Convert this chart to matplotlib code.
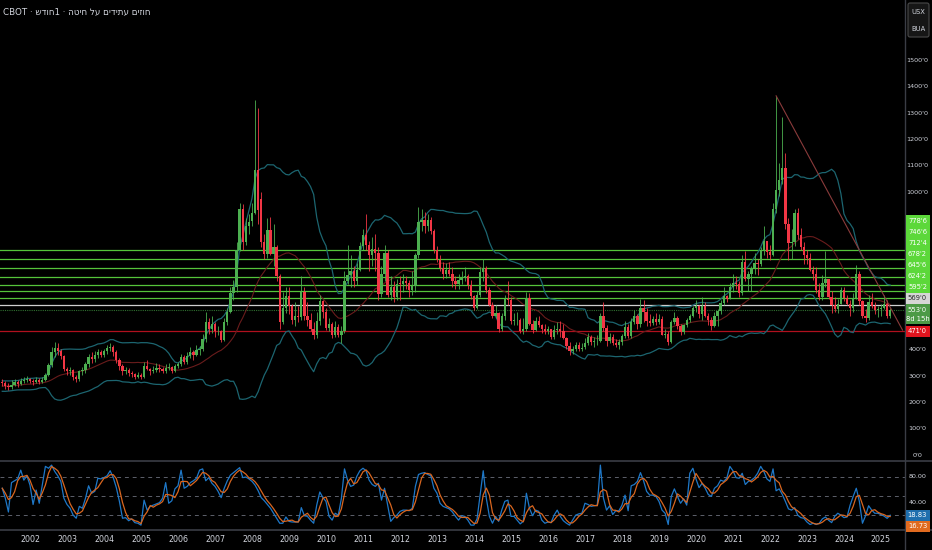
import numpy as np
import pandas as pd
import matplotlib
matplotlib.use('Agg')
import matplotlib.pyplot as plt
from matplotlib import font_manager
from matplotlib.patches import Rectangle, FancyBboxPatch
from matplotlib.lines import Line2D
from matplotlib.transforms import IdentityTransform

plt.rcParams['font.family'] = ['DejaVu Sans']

# monthly candles Apr 2001 .. Apr 2025, one year per line (cents/bu)
opens = [
    278, 272, 262, 258, 268, 276, 270, 282, 284,
    289, 280, 276, 286, 278, 284, 304, 342, 392, 408, 396, 378,
    326, 318, 322, 296, 288, 318, 322, 345, 372, 365, 382, 392,
    380, 395, 408, 412, 392, 360, 338, 318, 322, 312, 308, 298,
    306, 296, 340, 328, 318, 325, 330, 328, 318, 332, 336, 320,
    338, 345, 372, 352, 378, 392, 382, 398, 402, 440, 505, 478,
    500, 470, 472, 438, 505, 545, 618, 640, 780, 935, 810, 870,
    890, 920, 1084, 975, 810, 765, 855, 765, 790, 680, 505, 560,
    605, 565, 512, 530, 525, 620, 530, 515, 480, 455, 510, 585,
    545, 482, 498, 455, 488, 458, 470, 660, 685, 700, 662, 705,
    795, 835, 800, 760, 785, 770, 612, 690, 770, 608, 640, 600,
    652, 650, 662, 655, 628, 642, 760, 887, 895, 870, 895, 850,
    780, 742, 712, 690, 705, 690, 660, 652, 665, 675, 682, 645,
    605, 558, 610, 695, 712, 628, 572, 528, 540, 478, 530, 592,
    590, 508, 512, 512, 470, 478, 598, 500, 476, 510, 495, 478,
    470, 478, 448, 475, 480, 470, 445, 415, 395, 402, 418, 405,
    410, 425, 448, 428, 432, 432, 528, 482, 435, 450, 425, 420,
    428, 452, 488, 452, 505, 528, 498, 558, 545, 510, 502, 518,
    505, 518, 458, 462, 430, 505, 522, 492, 468, 495, 512, 530,
    558, 565, 535, 568, 530, 512, 492, 530, 548, 578, 605, 595,
    640, 655, 652, 615, 735, 668, 690, 710, 730, 728, 775, 812,
    772, 760, 935, 1006, 1045, 1090, 880, 805, 810, 920, 835, 790,
    760, 748, 705, 690, 628, 602, 655, 668, 600, 572, 555, 575,
    628, 598, 575, 560, 598, 690, 585, 528, 520, 582, 568, 550,
    556, 560, 575, 528,
]
highs = [
    290, 280, 272, 285, 290, 285, 292, 296, 300,
    294, 288, 295, 292, 296, 312, 350, 410, 428, 425, 405, 380,
    335, 335, 328, 305, 325, 335, 355, 385, 392, 395, 405, 400,
    405, 418, 425, 420, 398, 368, 345, 335, 330, 320, 312, 315,
    310, 355, 362, 332, 338, 350, 345, 335, 345, 350, 340, 345,
    355, 385, 380, 390, 410, 400, 420, 415, 460, 545, 520, 530,
    505, 490, 475, 520, 560, 640, 665, 810, 960, 955, 900, 915,
    960, 1350, 1319, 1000, 840, 900, 905, 880, 800, 690, 620, 640,
    640, 575, 580, 565, 680, 640, 580, 540, 505, 545, 610, 590,
    560, 520, 505, 510, 500, 490, 700, 800, 760, 720, 730, 810,
    860, 915, 815, 830, 840, 790, 720, 800, 780, 680, 660, 670,
    680, 690, 680, 665, 700, 770, 945, 935, 925, 915, 905, 860,
    795, 760, 735, 730, 735, 715, 680, 690, 700, 715, 690, 665,
    610, 625, 715, 745, 720, 640, 580, 570, 545, 540, 610, 660,
    600, 540, 545, 520, 520, 620, 615, 515, 525, 530, 500, 500,
    490, 480, 495, 505, 510, 500, 450, 430, 415, 430, 430, 425,
    445, 465, 455, 450, 455, 540, 580, 495, 465, 460, 440, 440,
    460, 510, 500, 520, 550, 535, 595, 590, 560, 535, 530, 540,
    535, 530, 480, 470, 515, 545, 530, 500, 500, 520, 535, 565,
    590, 570, 600, 580, 540, 525, 545, 555, 590, 640, 610, 655,
    690, 680, 660, 760, 775, 700, 720, 770, 745, 790, 870, 815,
    800, 960, 1366, 1110, 1285, 1150, 900, 860, 935, 940, 865, 810,
    780, 770, 720, 715, 655, 685, 775, 670, 625, 600, 595, 640,
    640, 610, 590, 615, 722, 700, 590, 555, 610, 615, 580, 565,
    575, 610, 590, 560,
]
lows = [
    262, 252, 246, 250, 262, 258, 265, 272, 276,
    272, 268, 272, 270, 272, 280, 300, 335, 372, 380, 365, 318,
    305, 305, 285, 276, 282, 305, 312, 335, 348, 355, 368, 372,
    372, 385, 395, 375, 350, 325, 305, 308, 300, 298, 288, 292,
    288, 293, 322, 306, 310, 314, 315, 310, 312, 322, 312, 316,
    330, 340, 345, 346, 368, 360, 375, 380, 395, 430, 460, 465,
    450, 455, 430, 435, 495, 540, 590, 620, 775, 780, 800, 840,
    870, 915, 880, 790, 745, 750, 760, 720, 660, 480, 500, 540,
    535, 500, 490, 505, 515, 515, 490, 470, 440, 445, 495, 520,
    475, 470, 445, 450, 450, 425, 465, 650, 640, 640, 645, 700,
    780, 780, 700, 720, 700, 590, 600, 660, 600, 590, 580, 590,
    590, 620, 630, 600, 610, 620, 750, 850, 845, 850, 840, 770,
    735, 700, 670, 675, 680, 640, 630, 630, 650, 660, 630, 595,
    550, 555, 600, 660, 615, 565, 520, 520, 468, 470, 515, 570,
    500, 495, 495, 465, 460, 470, 495, 465, 470, 485, 465, 460,
    460, 440, 440, 460, 450, 440, 405, 380, 385, 395, 395, 395,
    405, 420, 420, 410, 418, 428, 470, 415, 425, 418, 410, 405,
    420, 445, 445, 445, 500, 480, 485, 505, 490, 490, 495, 495,
    500, 455, 445, 420, 425, 500, 480, 455, 460, 485, 505, 525,
    545, 520, 515, 525, 495, 475, 488, 490, 535, 570, 580, 595,
    620, 630, 600, 610, 660, 625, 625, 690, 685, 720, 760, 750,
    740, 755, 920, 985, 1030, 860, 740, 745, 795, 820, 780, 725,
    725, 700, 665, 615, 590, 590, 640, 595, 540, 545, 540, 575,
    585, 570, 530, 545, 592, 570, 520, 505, 515, 560, 535, 525,
    530, 555, 520, 520,
]
closes = [
    272, 262, 258, 268, 276, 270, 282, 284, 289,
    280, 276, 286, 278, 284, 304, 342, 392, 408, 396, 378, 326,
    318, 322, 296, 288, 318, 322, 345, 372, 365, 382, 392, 380,
    395, 408, 412, 392, 360, 338, 318, 322, 312, 308, 298, 306,
    296, 340, 328, 318, 325, 330, 328, 318, 332, 336, 320, 338,
    345, 372, 352, 378, 392, 382, 398, 402, 440, 505, 478, 500,
    470, 472, 438, 505, 545, 618, 640, 780, 935, 810, 870, 885,
    920, 1084, 930, 810, 765, 855, 765, 790, 680, 505, 560, 605,
    565, 512, 530, 525, 620, 530, 515, 480, 455, 510, 585, 545,
    482, 498, 455, 488, 458, 470, 660, 685, 700, 662, 705, 795,
    835, 800, 760, 785, 770, 612, 690, 770, 608, 640, 600, 652,
    650, 662, 655, 628, 642, 760, 887, 895, 870, 895, 850, 780,
    742, 712, 690, 705, 690, 660, 652, 665, 675, 682, 645, 605,
    558, 610, 695, 712, 628, 572, 528, 540, 478, 530, 592, 590,
    508, 512, 512, 470, 478, 598, 500, 476, 510, 495, 478, 470,
    478, 448, 475, 480, 470, 445, 415, 395, 402, 418, 405, 408,
    425, 448, 428, 432, 432, 528, 482, 435, 450, 425, 420, 428,
    452, 488, 452, 505, 528, 498, 558, 545, 510, 502, 518, 505,
    518, 458, 462, 430, 505, 522, 492, 468, 495, 512, 530, 558,
    565, 535, 568, 530, 512, 492, 530, 548, 578, 605, 595, 640,
    655, 652, 615, 735, 668, 690, 710, 730, 728, 775, 812, 772,
    760, 935, 1006, 1045, 1090, 880, 805, 810, 920, 835, 790, 760,
    748, 705, 690, 628, 602, 655, 668, 600, 572, 555, 575, 628,
    598, 575, 560, 598, 690, 585, 528, 520, 582, 568, 550, 556,
    560, 575, 528, 553,
]
# closes Sep 1999 .. Mar 2001, only to warm up the 20-bar bands
warmup_closes = [265, 250, 252, 248, 255, 258, 262, 255, 275, 262,
                 255, 248, 262, 255, 272, 282, 272, 265, 278]
first_month = '2001-04'

# stoch RSI %K, same months as the candles
stoch_k = [
    62, 46, 24, 71, 74, 77, 91, 75, 82,
    67, 36, 59, 38, 67, 97, 94, 99, 89, 82, 73, 46,
    36, 30, 19, 14, 33, 30, 46, 66, 54, 57, 78, 77,
    79, 82, 90, 79, 63, 41, 14, 15, 10, 13, 7, 6,
    3, 43, 27, 33, 35, 37, 39, 46, 71, 38, 42, 61,
    66, 91, 62, 65, 71, 74, 78, 91, 93, 74, 79, 70,
    65, 57, 47, 62, 74, 83, 87, 91, 95, 79, 80, 77,
    73, 67, 58, 47, 42, 36, 30, 22, 14, 6, 6, 16,
    9, 8, 8, 8, 31, 18, 17, 11, 6, 35, 56, 47,
    41, 17, 11, 22, 19, 46, 93, 75, 65, 67, 81, 90,
    94, 90, 75, 68, 65, 70, 43, 62, 35, 9, 15, 19,
    25, 27, 27, 26, 30, 65, 84, 86, 87, 84, 82, 62,
    54, 38, 33, 31, 29, 24, 17, 11, 18, 17, 11, 3,
    3, 13, 51, 90, 46, 17, 6, 17, 9, 27, 41, 43,
    17, 17, 11, 5, 9, 54, 30, 18, 27, 25, 11, 6,
    8, 7, 19, 27, 17, 10, 6, 3, 11, 19, 21, 22,
    38, 36, 33, 34, 35, 99, 46, 27, 34, 20, 26, 26,
    35, 51, 26, 66, 68, 73, 87, 74, 57, 51, 51, 49,
    41, 27, 22, 4, 49, 61, 49, 38, 45, 35, 86, 94,
    77, 63, 70, 62, 52, 49, 62, 66, 75, 73, 78, 97,
    90, 79, 78, 86, 68, 73, 75, 79, 86, 97, 89, 77,
    73, 93, 58, 61, 52, 41, 29, 27, 31, 19, 15, 14,
    8, 4, 6, 4, 6, 13, 16, 11, 7, 17, 22, 19,
    15, 16, 35, 49, 62, 41, 6, 18, 34, 27, 22, 22,
    20, 17.5, 13.86, 18.83,
]

green_levels = [778.6, 746.6, 712.4, 678.2, 645.6, 624.2, 595.2]
white_level = 569.0
red_level = 471.0
last_price = 553.0
countdown = '8d 15h'
trend_months = ['2022-03', '2025-08']
trend_prices = [1366, 475]
years = list(range(2002, 2026))
price_ticks = list(range(0, 1600, 100))
osc_ticks = [80, 40]
osc_bands = [80, 50, 20]
title = 'CBOT · שדוח1 · הטיח לע םידיתע םיזוח'

BG = '#000000'
GREEN = '#4caf50'
RED = '#f23645'
TXT = '#d1d4dc'
GRID = '#3a3d45'
W, H = 932, 550

installed = {f.name for f in font_manager.fontManager.ttflist}
if 'Liberation Sans Narrow' in installed:
    NARROW, FS = ['Liberation Sans Narrow', 'DejaVu Sans'], 6.0
else:
    NARROW, FS = ['DejaVu Sans'], 4.9

base = pd.Period('2002-01', 'M')
months = pd.period_range(first_month, periods=len(closes), freq='M')
x = np.array([(p - base).n for p in months])

allc = pd.Series(warmup_closes + closes, dtype=float)
mid = allc.rolling(20).mean()
sd = allc.rolling(20).std(ddof=0)
n0 = len(warmup_closes)
mid = mid.values[n0:]
upper = mid + 2 * sd.values[n0:]
lower = mid - 2 * sd.values[n0:]

k = pd.Series(stoch_k, dtype=float)
d = k.rolling(3, min_periods=1).mean()

fig = plt.figure(figsize=(W / 100, H / 100), dpi=100, facecolor=BG)
ax = fig.add_axes([0, 1 - 461 / H, 905 / W, 461 / H], facecolor=BG)
ax2 = fig.add_axes([0, 1 - 530 / H, 905 / W, 69 / H], facecolor=BG)
for a in (ax, ax2):
    a.set_axis_off()
    a.set_xlim(-9.73, 283.8)
ax.set_ylim(-22.8, 1730.4)
ax2.set_ylim(-4.8, 105.6)

# horizontal levels
for p in green_levels:
    ax.axhline(p, color='#55c43a', lw=0.9, zorder=1)
ax.axhline(white_level, color='#d0d0d0', lw=0.9, zorder=1)
ax.axhline(last_price, color='#2f6f2f', lw=0.8, ls=(0, (1, 1)), zorder=1)
ax.axhline(red_level, color='#b0101e', lw=0.9, zorder=1)

# bollinger bands
ax.plot(x, upper, color='#1c6570', lw=0.9, zorder=2)
ax.plot(x, lower, color='#1c6570', lw=0.9, zorder=2)
ax.plot(x, mid, color='#6a1c1c', lw=0.8, zorder=2)

# candles
o, h, l, c = (np.array(v, dtype=float) for v in (opens, highs, lows, closes))
col = np.where(c >= o, GREEN, RED)
ax.vlines(x, l, h, colors=col, lw=0.6, zorder=3)
ax.bar(x, np.maximum(np.abs(c - o), 3), bottom=np.minimum(o, c), width=0.75,
       color=col, linewidth=0, zorder=4)

# trend line
tx = [(pd.Period(m, 'M') - base).n for m in trend_months]
ax.plot(tx, trend_prices, color='#8a3b3b', lw=0.8, zorder=5)

# oscillator
for b in osc_bands:
    ax2.axhline(b, color='#5d606b', lw=0.7, ls=(0, (4, 4)))
ax2.plot(x, k, color='#1e78c8', lw=0.9)
ax2.plot(x, d, color='#d9661f', lw=0.9)

# frame lines
ID = IdentityTransform()
for yy in (H - 461, H - 530):
    fig.add_artist(Line2D([0, W], [yy, yy], color=GRID, lw=1.2, transform=ID))
fig.add_artist(Line2D([905, 905], [0, H], color=GRID, lw=1.0, transform=ID))

fig.canvas.draw()


def yd(a, v):
    return a.transData.transform((0, v))[1]


def xd(a, v):
    return a.transData.transform((v, 0))[0]


def fmt(p):
    whole = int(p)
    return "%d'%d" % (whole, int(round((p - whole) * 10)))


def label(xp, yp, s, color, ha='center', z=6, size=None):
    fig.text(xp, yp, s, transform=ID, ha=ha, va='center', fontsize=size or FS,
             family=NARROW, color=color, zorder=z)


boxes = []


def tag(yc, lines, face, tc, hgt=11.1):
    top = yc + hgt / 2
    bottom = yc - hgt / 2 - 9.2 * (len(lines) - 1)
    fig.add_artist(Rectangle((905.5, bottom), 24, top - bottom, transform=ID,
                             facecolor=face, edgecolor='none', zorder=5))
    boxes.append((bottom, top))
    for i, s in enumerate(lines):
        label(917.5, yc - i * 9.2, s, tc)


hl = 11.1
cur = yd(ax, last_price)
tag(cur, [fmt(last_price), countdown], '#4c9a46', 'white')
tag(yd(ax, red_level), [fmt(red_level)], '#e0141e', 'white')
prev = max(yd(ax, white_level), cur + hl)
tag(prev, [fmt(white_level)], '#d6d6d6', '#2a2a2a')
for p in sorted(green_levels):
    prev = max(yd(ax, p), prev + hl)
    tag(prev, [fmt(p)], '#5cd83a', 'white')

kb = yd(ax2, k.iloc[-1])
tag(kb, ['%.2f' % k.iloc[-1]], '#1f6fae', 'white')
tag(min(yd(ax2, d.iloc[-1]), kb - hl), ['%.2f' % d.iloc[-1]], '#e06a1f', 'white')


def covered(yp):
    return any(b - 3 < yp < t + 3 for b, t in boxes)


# price scale, labels hidden behind the tags are skipped
for t in price_ticks:
    if not covered(yd(ax, t)):
        label(917.5, yd(ax, t), fmt(t), TXT, z=3, size=FS - 0.3)
for t in osc_ticks:
    if not covered(yd(ax2, t)):
        label(917.5, yd(ax2, t), '%.2f' % t, TXT, z=3, size=FS - 0.3)

# years
for yr in years:
    label(xd(ax, (yr - 2002) * 12), 10, str(yr), TXT, size=FS + 0.8)

# title and unit box
fig.text(3, H - 12, title, transform=ID, ha='left', va='center',
         fontsize=FS + 1.4, family=NARROW, color=TXT)
fig.add_artist(FancyBboxPatch((908, H - 37), 21, 34, boxstyle='round,pad=0,rounding_size=2',
                              transform=ID, facecolor='#161616', edgecolor='#4a4a4a', lw=0.8))
label(918.5, H - 12, 'USX', TXT)
label(918.5, H - 29, 'BUA', TXT)

fig.savefig('out.png', dpi=100, facecolor=BG)
